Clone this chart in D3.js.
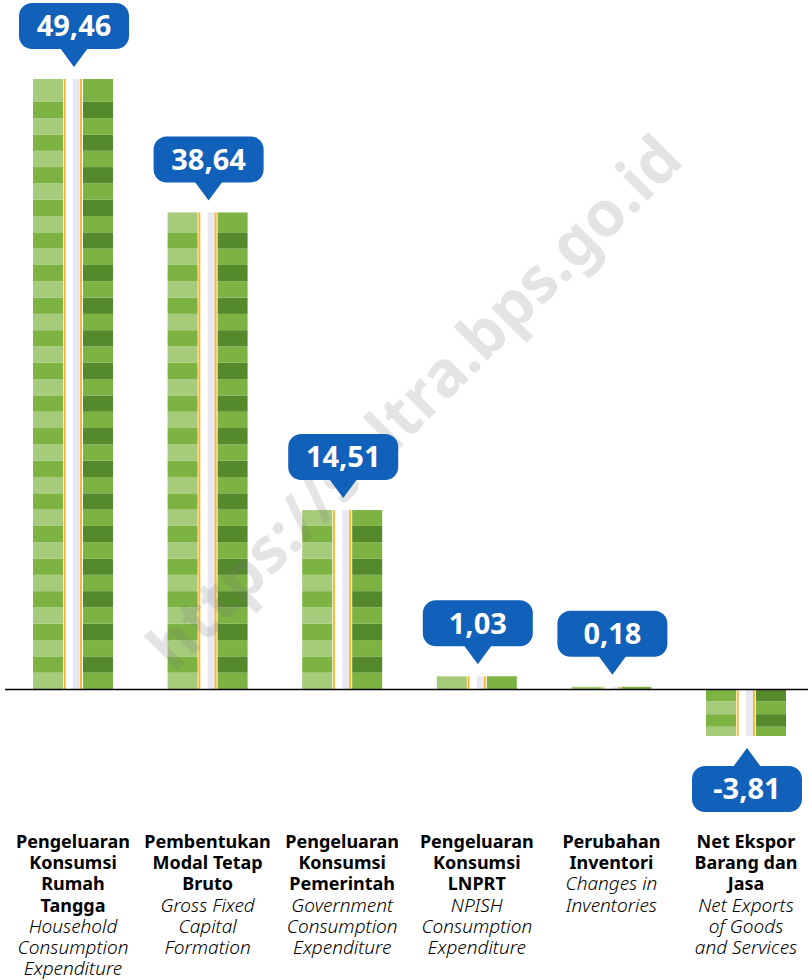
<!DOCTYPE html>
<html>
<head>
<meta charset="utf-8">
<script src="https://cdn.jsdelivr.net/npm/d3@7"></script>
<style>
  html, body { margin: 0; padding: 0; background: #fff; }
  svg { display: block; }
</style>
</head>
<body>
<svg id="chart" width="808" height="980"></svg>
<script>
// ---- data ----
const categories = ["PKRT", "PMTB", "PKP", "PK-LNPRT", "PI", "NetEkspor"];
const values = [49.46, 38.64, 14.51, 1.03, 0.18, -3.81];
const labelsID = [
  ["Pengeluaran", "Konsumsi", "Rumah", "Tangga"],
  ["Pembentukan", "Modal Tetap", "Bruto"],
  ["Pengeluaran", "Konsumsi", "Pemerintah"],
  ["Pengeluaran", "Konsumsi", "LNPRT"],
  ["Perubahan", "Inventori"],
  ["Net Ekspor", "Barang dan", "Jasa"]
];
const labelsEN = [
  ["Household", "Consumption", "Expenditure"],
  ["Gross Fixed", "Capital", "Formation"],
  ["Government", "Consumption", "Expenditure"],
  ["NPISH", "Consumption", "Expenditure"],
  ["Changes in", "Inventories"],
  ["Net Exports", "of Goods", "and Services"]
];
const watermarkText = "https://sultra.bps.go.id";

// ---- setup ----
const svg = d3.select("#chart");
const fmt = d3.formatLocale({decimal: ",", thousands: ".", grouping: [3], currency: ["", ""], minus: "-"}).format(".2f");

const x = d3.scalePoint().domain(categories).range([73, 746]);
const y = d3.scaleLinear().domain([0, d3.max(values)]).range([689, 79]);

const barW = 80;
const colLight = "#a6cc7b", colMid = "#7cb342", colDark = "#548a2c";
const colOrange = "#fbb72f", colLav = "#e8e8f3";
const blue = "#1160b9";

const data = categories.map((c, i) => ({c, v: values[i], id: labelsID[i], en: labelsEN[i]}));

const gBars = svg.append("g");
const base = y(0);

data.forEach(d => {
  const cx = x(d.c);
  const x0 = cx - barW / 2;
  const top = Math.min(y(d.v), base);
  const bot = Math.max(y(d.v), base);
  const g = gBars.append("g");
  // stripes (alternating bands anchored at the baseline)
  const pos = d.v >= 0;
  const h = pos ? 16.31 : 12.6;
  const stripes = [];
  for (let j = 0; j < 200; j++) {
    let a, b;
    if (pos) { a = base - (j + 1) * h; b = base - j * h; }
    else { a = base + j * h; b = base + (j + 1) * h; }
    const s0 = Math.max(a, top), s1 = Math.min(b, bot);
    if (s1 - s0 > 0.01) stripes.push({y0: s0, y1: s1, odd: pos ? (j % 2 === 1) : (j % 2 === 0)});
    if ((pos && a <= top) || (!pos && b >= bot)) break;
  }
  // merge a short leftover end band into its neighbour
  if (pos && stripes.length > 1) {
    const last = stripes[stripes.length - 1];
    if (last.y1 - last.y0 < h / 2) {
      stripes.pop();
      stripes[stripes.length - 1].y0 = last.y0;
    }
  }
  g.selectAll("rect.l").data(stripes).join("rect")
    .attr("x", x0).attr("width", 30)
    .attr("y", s => s.y0).attr("height", s => s.y1 - s.y0)
    .attr("fill", s => s.odd ? colMid : colLight);
  g.selectAll("rect.r").data(stripes).join("rect")
    .attr("x", x0 + 50).attr("width", 30)
    .attr("y", s => s.y0).attr("height", s => s.y1 - s.y0)
    .attr("fill", s => s.odd ? colDark : colMid);
  // centre decorations
  g.append("rect").attr("x", x0 + 30.7).attr("width", 2).attr("y", top).attr("height", bot - top).attr("fill", colOrange);
  g.append("rect").attr("x", x0 + 40).attr("width", 7).attr("y", top).attr("height", bot - top).attr("fill", colLav);
  g.append("rect").attr("x", x0 + 47).attr("width", 2).attr("y", top).attr("height", bot - top).attr("fill", colOrange);
});

// baseline
svg.append("line").attr("x1", 5).attr("x2", 808).attr("y1", base + 0.5).attr("y2", base + 0.5)
  .attr("stroke", "#000").attr("stroke-width", 1.6);

// watermark
svg.append("text")
  .attr("transform", "translate(414,402) rotate(-45)")
  .attr("text-anchor", "middle").attr("dy", "0.36em")
  .attr("font-family", "'Noto Sans', sans-serif").attr("font-weight", 700)
  .attr("font-size", 63).attr("fill", "#7a7a7a").attr("fill-opacity", 0.2)
  .text(watermarkText);

// callouts
const cw = 110, ch = 46, ph = 18, pw = 28, gap = 12;
const gCall = svg.append("g");
data.forEach(d => {
  const cx = x(d.c) + 1;
  const pos = d.v >= 0;
  const g = gCall.append("g");
  let rectY, tipY, baseY;
  if (pos) {
    tipY = y(d.v) - gap; baseY = tipY - ph; rectY = baseY - ch;
  } else {
    tipY = y(d.v) + gap; baseY = tipY + ph; rectY = baseY;
  }
  g.append("rect").attr("x", cx - cw / 2).attr("y", rectY).attr("width", cw).attr("height", ch)
    .attr("rx", 13).attr("fill", blue);
  const by = pos ? baseY - 1 : baseY + 1;
  g.append("path").attr("d", `M${cx - pw / 2},${by} L${cx},${tipY} L${cx + pw / 2},${by} Z`).attr("fill", blue);
  g.append("text").attr("x", cx).attr("y", rectY + ch / 2).attr("dy", "0.36em")
    .attr("text-anchor", "middle")
    .attr("font-family", "'Noto Sans', sans-serif").attr("font-weight", 700)
    .attr("font-size", 29).attr("fill", "#fff")
    .text(fmt(d.v));
});

// category labels
const lh = 21.2;
const gLab = svg.append("g");
data.forEach(d => {
  const cx = x(d.c);
  const t = gLab.append("text").attr("text-anchor", "middle")
    .attr("font-family", "'Noto Sans', sans-serif").attr("fill", "#000");
  let k = 0;
  d.id.forEach(line => {
    t.append("tspan").attr("x", cx).attr("y", 848 + k * lh)
      .attr("font-size", 18).attr("font-weight", 700).text(line);
    k++;
  });
  d.en.forEach(line => {
    t.append("tspan").attr("x", cx).attr("y", 848 + k * lh)
      .attr("font-size", 19).attr("font-weight", 300).attr("font-style", "italic").text(line);
    k++;
  });
});
</script>
</body>
</html>
